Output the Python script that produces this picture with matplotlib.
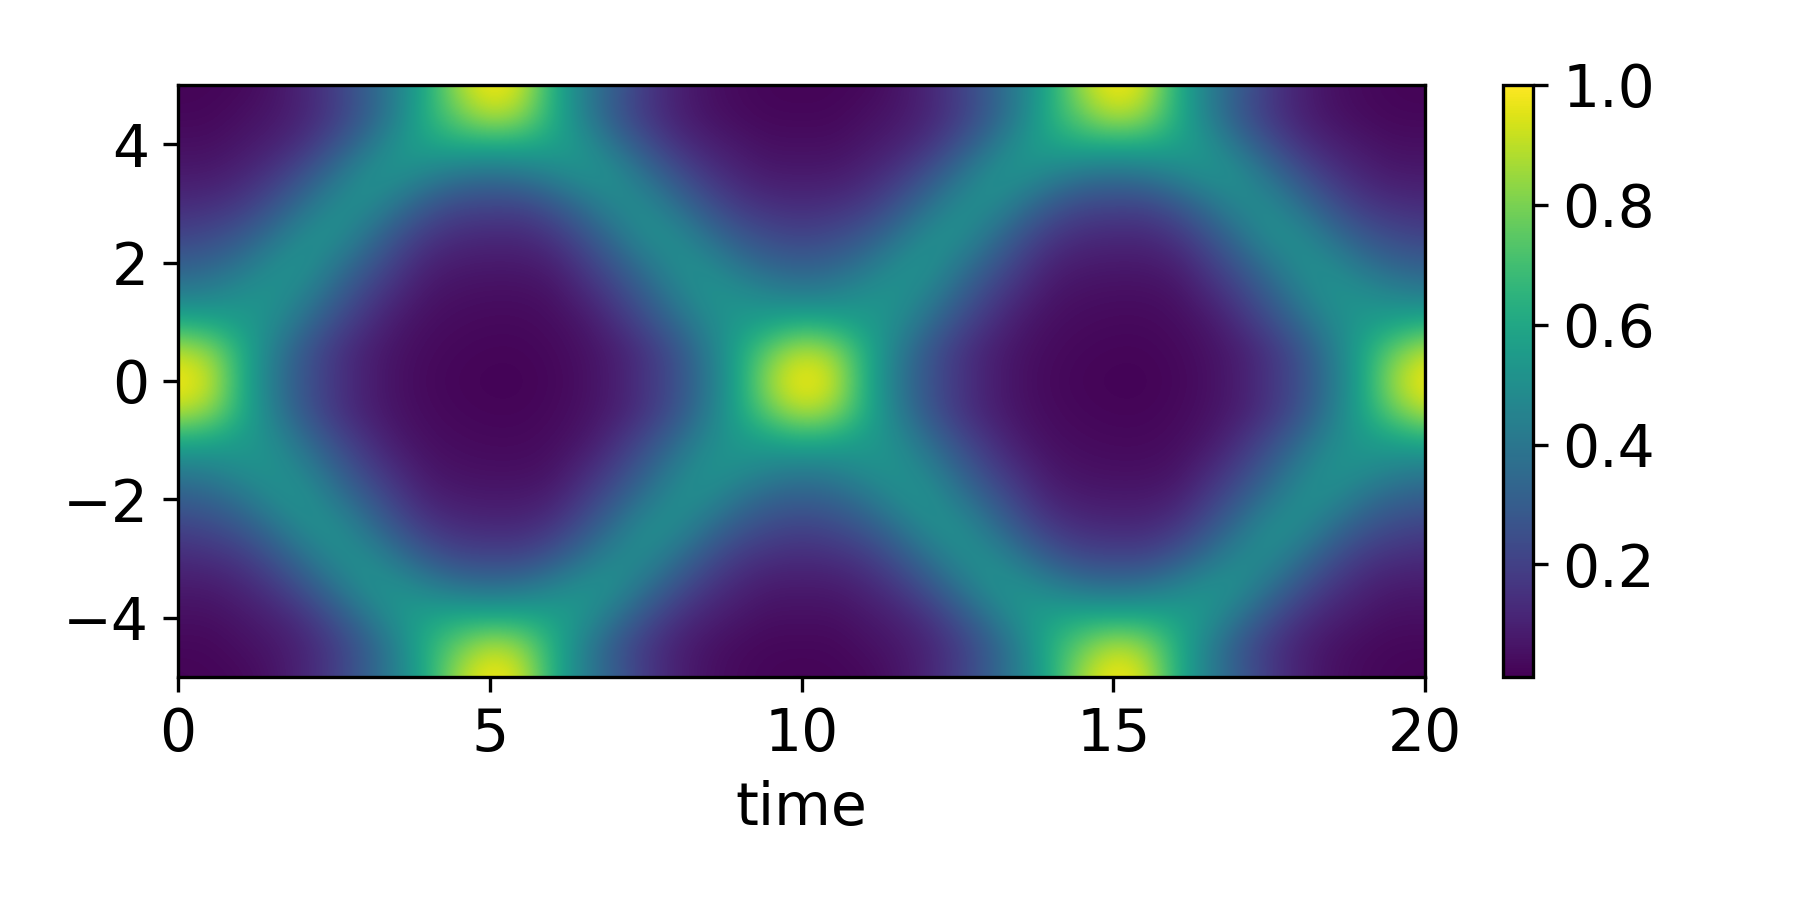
import numpy as np
from matplotlib import pyplot as plt

# columns t = 0, 0.5, ... 20 / rows y = 5, 4.5, ... -5
time = np.arange(41) * 0.5
position = 5 - np.arange(21) * 0.5
xticks = [0, 5, 10, 15, 20]
yticks = [-4, -2, 0, 2, 4]
cticks = [0.2, 0.4, 0.6, 0.8, 1.0]
density = np.array([
    [.02,.025,.03,.06,.11,.19,.30,.44,.62,.87,1.0,.93,.64,.44,.30,.18,.10,.055,.035,.025,.02,.025,.03,.06,.11,.19,.30,.44,.62,.87,1.0,.93,.64,.44,.30,.18,.10,.055,.035,.025,.02],
    [.03,.03,.05,.07,.11,.18,.29,.44,.64,.78,.90,.84,.64,.44,.28,.17,.10,.06,.04,.03,.03,.03,.05,.07,.11,.18,.29,.44,.64,.78,.90,.84,.64,.44,.28,.17,.10,.06,.04,.03,.03],
    [.05,.05,.07,.10,.15,.25,.38,.52,.58,.62,.62,.62,.58,.52,.38,.25,.15,.10,.07,.05,.05,.05,.07,.10,.15,.25,.38,.52,.58,.62,.62,.62,.58,.52,.38,.25,.15,.10,.07,.05,.05],
    [.08,.08,.11,.16,.25,.37,.50,.52,.46,.40,.38,.40,.46,.52,.50,.37,.25,.16,.11,.08,.08,.08,.11,.16,.25,.37,.50,.52,.46,.40,.38,.40,.46,.52,.50,.37,.25,.16,.11,.08,.08],
    [.13,.14,.17,.25,.36,.48,.50,.40,.29,.23,.22,.22,.28,.38,.48,.48,.36,.25,.17,.14,.13,.14,.17,.25,.36,.48,.50,.40,.29,.23,.22,.22,.28,.38,.48,.48,.36,.25,.17,.14,.13],
    [.20,.22,.27,.36,.48,.51,.40,.27,.18,.14,.13,.13,.17,.26,.38,.50,.48,.36,.27,.22,.20,.22,.27,.36,.48,.51,.40,.27,.18,.14,.13,.13,.17,.26,.38,.50,.48,.36,.27,.22,.20],
    [.30,.32,.38,.48,.52,.42,.30,.19,.11,.085,.08,.08,.10,.18,.28,.40,.50,.48,.38,.32,.30,.32,.38,.48,.52,.42,.30,.19,.11,.085,.08,.08,.10,.18,.28,.40,.50,.48,.38,.32,.30],
    [.42,.44,.50,.52,.46,.33,.21,.13,.07,.055,.05,.05,.06,.12,.20,.31,.44,.52,.50,.45,.42,.44,.50,.52,.46,.33,.21,.13,.07,.055,.05,.05,.06,.12,.20,.31,.44,.52,.50,.45,.42],
    [.62,.60,.55,.50,.37,.24,.15,.08,.05,.04,.035,.035,.045,.07,.14,.23,.35,.48,.54,.58,.62,.60,.55,.50,.37,.24,.15,.08,.05,.04,.035,.035,.045,.07,.14,.23,.35,.48,.54,.58,.62],
    [.90,.84,.64,.44,.28,.17,.10,.06,.04,.03,.025,.025,.035,.055,.09,.16,.26,.42,.60,.78,.90,.84,.64,.44,.28,.17,.10,.06,.04,.03,.025,.025,.035,.055,.09,.16,.26,.42,.60,.78,.90],
    [1.0,.93,.64,.42,.27,.17,.10,.055,.035,.025,.02,.02,.03,.05,.09,.16,.25,.40,.60,.87,1.0,.93,.64,.42,.27,.17,.10,.055,.035,.025,.02,.02,.03,.05,.09,.16,.25,.40,.60,.87,1.0],
    [.90,.84,.64,.44,.28,.17,.10,.06,.04,.03,.025,.025,.035,.055,.09,.16,.26,.42,.60,.78,.90,.84,.64,.44,.28,.17,.10,.06,.04,.03,.025,.025,.035,.055,.09,.16,.26,.42,.60,.78,.90],
    [.62,.60,.55,.50,.37,.24,.15,.08,.05,.04,.035,.035,.045,.07,.14,.23,.35,.48,.54,.58,.62,.60,.55,.50,.37,.24,.15,.08,.05,.04,.035,.035,.045,.07,.14,.23,.35,.48,.54,.58,.62],
    [.42,.44,.50,.52,.46,.33,.21,.13,.07,.055,.05,.05,.06,.12,.20,.31,.44,.52,.50,.45,.42,.44,.50,.52,.46,.33,.21,.13,.07,.055,.05,.05,.06,.12,.20,.31,.44,.52,.50,.45,.42],
    [.30,.32,.38,.48,.52,.42,.30,.19,.11,.085,.08,.08,.10,.18,.28,.40,.50,.48,.38,.32,.30,.32,.38,.48,.52,.42,.30,.19,.11,.085,.08,.08,.10,.18,.28,.40,.50,.48,.38,.32,.30],
    [.20,.22,.27,.36,.48,.51,.40,.27,.18,.14,.13,.13,.17,.26,.38,.50,.48,.36,.27,.22,.20,.22,.27,.36,.48,.51,.40,.27,.18,.14,.13,.13,.17,.26,.38,.50,.48,.36,.27,.22,.20],
    [.13,.14,.17,.25,.36,.48,.50,.40,.29,.23,.22,.22,.28,.38,.48,.48,.36,.25,.17,.14,.13,.14,.17,.25,.36,.48,.50,.40,.29,.23,.22,.22,.28,.38,.48,.48,.36,.25,.17,.14,.13],
    [.08,.08,.11,.16,.25,.37,.50,.52,.46,.40,.38,.40,.46,.52,.50,.37,.25,.16,.11,.08,.08,.08,.11,.16,.25,.37,.50,.52,.46,.40,.38,.40,.46,.52,.50,.37,.25,.16,.11,.08,.08],
    [.05,.05,.07,.10,.15,.25,.38,.52,.58,.62,.62,.62,.58,.52,.38,.25,.15,.10,.07,.05,.05,.05,.07,.10,.15,.25,.38,.52,.58,.62,.62,.62,.58,.52,.38,.25,.15,.10,.07,.05,.05],
    [.03,.03,.05,.07,.11,.18,.29,.44,.64,.78,.90,.84,.64,.44,.28,.17,.10,.06,.04,.03,.03,.03,.05,.07,.11,.18,.29,.44,.64,.78,.90,.84,.64,.44,.28,.17,.10,.06,.04,.03,.03],
    [.02,.025,.03,.06,.11,.19,.30,.44,.62,.87,1.0,.93,.64,.44,.30,.18,.10,.055,.035,.025,.02,.025,.03,.06,.11,.19,.30,.44,.62,.87,1.0,.93,.64,.44,.30,.18,.10,.055,.035,.025,.02],
])

plt.rcParams["font.size"] = 14

fig = plt.figure(figsize=(6, 3), dpi=300)
ax = fig.add_axes([178 / 1800, 1 - 677 / 900, 1247 / 1800, 592 / 900])
cax = fig.add_axes([1503 / 1800, 1 - 677 / 900, 30 / 1800, 592 / 900])

dt = time[1] - time[0]
dy = position[0] - position[1]
extent = [time[0] - dt / 2, time[-1] + dt / 2, position[-1] - dy / 2, position[0] + dy / 2]
im = ax.imshow(density, cmap="viridis", vmin=0.012, vmax=1.0, aspect="auto",
               interpolation="bicubic", extent=extent)
ax.set_xlim(0, 20)
ax.set_ylim(-5, 5)
ax.set_xticks(xticks)
ax.set_yticks(yticks)
ax.set_xlabel("time")

cb = fig.colorbar(im, cax=cax)
cb.set_ticks(cticks)

fig.savefig("out.png", dpi=300)
